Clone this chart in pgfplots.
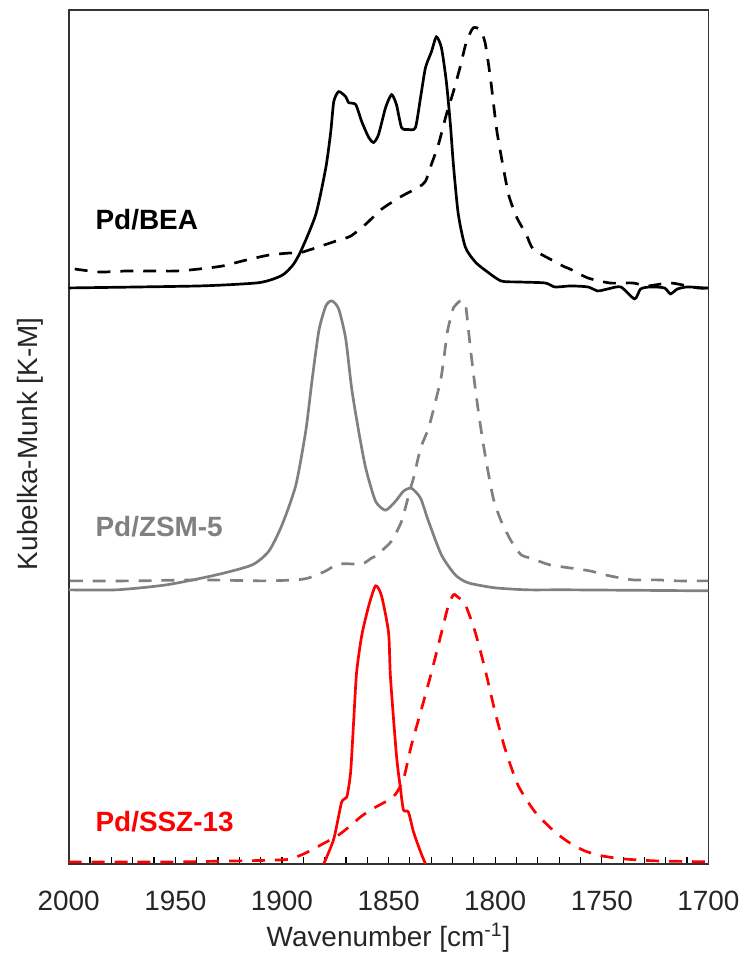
\documentclass[border=0pt]{standalone}
\usepackage{fontspec}
\setmainfont{Liberation Sans}
\usepackage{pgfplots}
\pgfplotsset{compat=1.18}
\definecolor{mygray}{RGB}{128,128,128}
\definecolor{myred}{RGB}{255,0,0}
\begin{document}
\begin{tikzpicture}
\begin{axis}[
  name=ax,
  scale only axis,
  width=321pt, height=428.5pt,
  x dir=reverse,
  xmin=1700, xmax=2000,
  ymin=0, ymax=857,
  xtick={1700,1750,...,2000},
  minor x tick num=4,
  xtick pos=bottom,
  tick align=inside,
  major tick length=3.5pt, minor tick length=3.5pt,
  ytick=\empty,
  axis line style={black!80, line width=0.8pt},
  every tick/.style={black, line width=0.6pt},
  /pgf/number format/assume math mode=true,
  /pgf/number format/1000 sep={},
  xticklabel style={font=\fontsize{14}{16}\selectfont, anchor=base, yshift=-23.5pt, text=black!85},
  xlabel={Wavenumber [cm\textsuperscript{-1}]},
  ylabel={Kubelka-Munk [K-M]},
  xlabel style={font=\fontsize{14}{16}\selectfont, at={(axis description cs:0.5,-0.0969)}, anchor=base, text=black!85},
  ylabel style={font=\fontsize{14}{16}\selectfont, at={(axis description cs:-0.0607,0.492)}, anchor=center, text=black!85},
  every axis plot/.append style={line width=1.35pt},
  clip=true,
]
% Pd/BEA solid
\addplot[black, smooth, tension=0.4] coordinates {
(2000,578) (1938.8,580) (1912,583) (1904,587) (1899,592) (1894.5,602) (1890.7,617) (1884.1,652) (1879.4,699) (1877.1,735) (1875.7,765) (1873.4,775) (1870.1,770) (1868.7,764) (1865.4,762) (1862.6,745) (1859.3,729) (1857.0,724) (1854.7,732) (1851.4,759) (1848.6,772) (1846.3,762) (1843.9,739) (1840.7,737) (1837.4,739) (1835.0,769) (1832.7,799) (1829.9,815) (1827.6,830) (1825.2,819) (1822.9,785) (1821.0,742) (1819.6,702) (1817.3,652) (1814.0,619) (1809.3,604) (1804.2,595) (1797.2,585) (1789.3,584) (1776.6,583) (1772.0,579) (1764.5,580) (1756.5,579) (1751.9,575) (1747.2,577) (1741.1,579) (1734.6,567) (1731.8,577) (1727.1,579) (1720.6,578) (1717.8,572) (1714.5,577) (1709.8,579) (1701.9,578) (1700,578)
};
% Pd/BEA dashed
\addplot[black, smooth, tension=0.4, dash pattern=on 6.5pt off 5pt] coordinates {
(1997.2,597) (1985.5,594) (1972.9,595) (1960.7,595) (1949.5,595) (1938.8,597) (1928.0,600) (1916.8,606) (1906.1,611) (1896.7,613) (1892.1,613) (1885.9,617) (1874.8,625) (1867.8,630) (1860.7,642) (1853.3,657) (1843.9,670) (1836.0,679) (1832.7,685) (1829.9,702) (1826.6,722) (1822.9,752) (1819.6,775) (1816.4,800) (1813.5,825) (1810.3,839) (1807.0,837) (1804.7,824) (1802.3,790) (1800.9,765) (1799.1,734) (1796.3,700) (1793.5,670) (1789.7,648) (1785.5,632) (1782.2,617) (1774.3,607) (1767.3,599) (1764.9,597) (1756.5,588) (1746.3,583) (1735.5,583) (1728.5,580) (1717.8,583) (1705.1,578) (1700,578)
};
% Pd/ZSM-5 solid
\addplot[mygray, smooth, tension=0.4] coordinates {
(2000,275) (1977.6,275) (1954.2,280) (1930.8,290) (1914.0,300) (1906.1,314) (1900.0,340) (1893.5,380) (1888.8,435) (1885.9,485) (1882.7,535) (1879.4,560) (1876.6,565) (1873.4,557) (1870.1,527) (1867.3,477) (1864.0,434) (1860.7,397) (1856.1,364) (1851.4,355) (1846.7,364) (1843.0,374) (1839.3,377) (1835.0,367) (1831.3,344) (1825.2,310) (1818.7,290) (1812.6,282) (1800.0,277) (1784.6,275) (1765,275) (1700,274)
};
% Pd/ZSM-5 dashed
\addplot[mygray, smooth, tension=0.4, dash pattern=on 6.5pt off 5pt] coordinates {
(1999.5,284) (1970.1,284) (1938.8,285) (1909.3,284) (1893.5,285) (1887.4,287) (1879.4,294) (1873.4,301) (1862.6,301) (1857.9,307) (1854.7,310) (1853.3,314) (1848.6,324) (1843.9,344) (1839.7,377) (1838.3,387) (1835.0,417) (1831.3,437) (1828.0,464) (1825.2,490) (1822.4,534) (1820.6,550) (1819.6,558) (1816.4,565) (1814.0,562) (1812.6,537) (1811.2,510) (1808.9,470) (1806.5,434) (1804.2,404) (1800.9,367) (1797.2,344) (1792.5,324) (1787.8,310) (1783.6,307) (1774.3,300) (1764.9,297) (1755.6,294) (1746.3,289) (1735.5,285) (1724.3,285) (1714.9,284) (1700,284)
};
% Pd/SSZ-13 solid
\addplot[myred, smooth, tension=0.4] coordinates {
(1880.4,0) (1875.7,25) (1872.0,62) (1869.6,67) (1867.8,92) (1866.4,142) (1865.0,192) (1862.6,229) (1859.3,259) (1856.1,279) (1853.3,269) (1850.0,232) (1849.1,187) (1846.3,109) (1844.4,75) (1843.0,54) (1840.7,52) (1838.3,32) (1835.0,12) (1832.7,0)
};
% Pd/SSZ-13 dashed
\addplot[myred, smooth, tension=0.4, dash pattern=on 6.5pt off 5pt] coordinates {
(2000,2) (1950,2) (1900.0,4) (1892,8) (1886,14) (1880,21) (1874,28) (1868,38) (1862.6,48) (1856,57) (1850,64) (1846.7,70) (1843.0,85) (1839.3,119) (1834.6,155) (1829.9,192) (1825.2,232) (1822.0,259) (1819.6,270) (1818.2,269) (1814.0,260) (1809.3,232) (1804.7,195) (1800.0,152) (1795.3,115) (1789.3,79) (1781.3,52) (1772.0,32) (1765,21) (1758,13) (1750,8) (1740,5) (1725,3) (1700,2)
};
\node[anchor=base west, font=\fontsize{14}{16}\selectfont\bfseries, text=black] at (axis cs:1990.7,637) {Pd/BEA};
\node[anchor=base west, font=\fontsize{14}{16}\selectfont\bfseries, text=mygray] at (axis cs:1990.7,329) {Pd/ZSM-5};
\node[anchor=base west, font=\fontsize{14}{16}\selectfont\bfseries, text=myred] at (axis cs:1990.7,32) {Pd/SSZ-13};
\end{axis}
\path ([shift={(-34.5pt,-46pt)}]ax.south west) rectangle ([shift={(16.5pt,5pt)}]ax.north east);
\end{tikzpicture}
\end{document}
